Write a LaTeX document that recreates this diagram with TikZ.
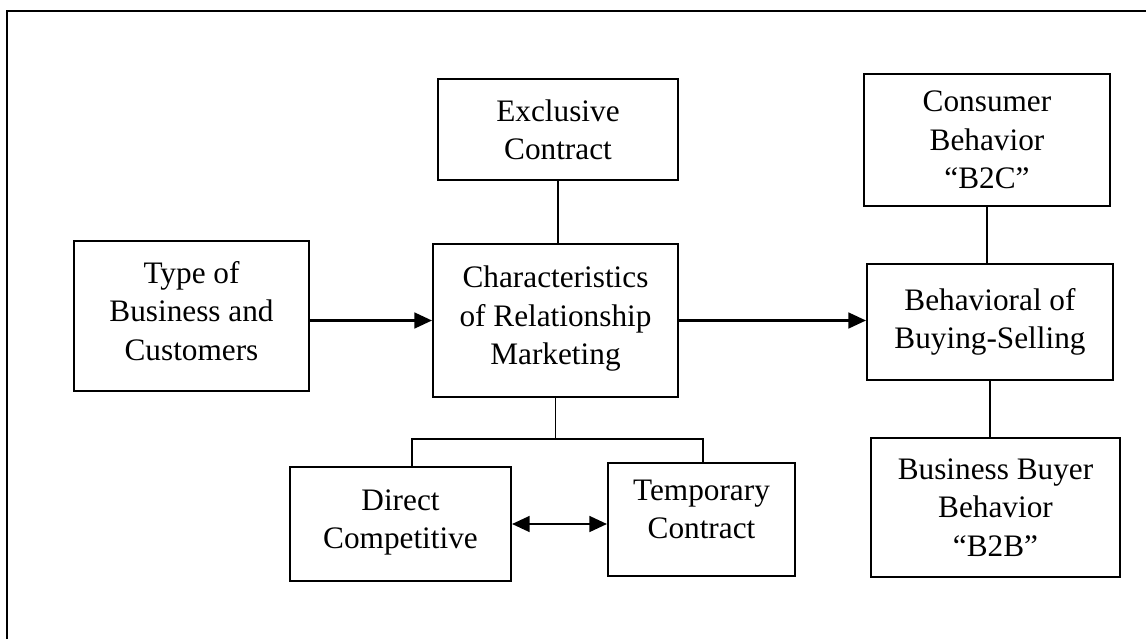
\documentclass[tikz,border=0pt]{standalone}
\usepackage{fontspec}
\setmainfont{Liberation Serif}
\usetikzlibrary{positioning,arrows.meta}

\begin{document}
\begin{tikzpicture}[x=0.02cm,y=-0.02cm,
                    block/.style={draw, line width=1.2pt, align=center, inner sep=0pt,
                                  font=\fontsize{17.8}{21.8}\selectfont},
                    link/.style={line width=1pt},
                    arr/.style={line width=1.2pt, -{Triangle[length=10pt,width=9pt]}},
                    dblarr/.style={line width=1.2pt, {Triangle[length=10pt,width=9pt]}-{Triangle[length=10pt,width=9pt]}}]
    \useasboundingbox (0,0) rectangle (1146,639);
    % frame (open at right and bottom)
    \draw[line width=1.4pt] (7,639) -- (7,11) -- (1146,11);

    % boxes
    \node[block, minimum width=4.7cm, minimum height=3cm] (type) at (191.5,316)
        {Type of\\Business and\\Customers\\[-16pt]};
    \node[block, minimum width=4.9cm, minimum height=3.06cm] (charac) at (555.5,320.5)
        {Characteristics\\of Relationship\\Marketing\\[-16pt]};
    \node[block, minimum width=4.8cm, minimum height=2.02cm] (excl) at (558,129.5)
        {Exclusive\\Contract};
    \node[block, minimum width=4.92cm, minimum height=2.64cm] (cons) at (987,140)
        {Consumer\\Behavior\\``B2C''};
    \node[block, minimum width=4.92cm, minimum height=2.32cm] (behav) at (990,322)
        {Behavioral of\\Buying-Selling};
    \node[block, minimum width=4.98cm, minimum height=2.78cm] (b2b) at (995.5,507.5)
        {Business Buyer\\Behavior\\``B2B''};
    \node[block, minimum width=4.42cm, minimum height=2.28cm] (direct) at (400.5,524)
        {Direct\\Competitive\\[-16pt]};
    \node[block, minimum width=3.74cm, minimum height=2.26cm] (temp) at (701.5,519.5)
        {Temporary\\Contract\\[-10pt]};

    % fork below the centre box
    \coordinate (forkl) at (412,439);
    \coordinate (forkr) at (703,439);

    % connectors
    \draw[arr] (type.east |- charac) -- (charac.west);
    \draw[arr] (charac.east) -- (charac.east -| behav.west);
    \draw[link] (excl.south) -- (excl.south |- charac.north);
    \draw[link] (cons.south) -- (cons.south |- behav.north);
    \draw[link] (behav.south) -- (behav.south |- b2b.north);
    \draw[link] (charac.south) -- (charac.south |- forkl);
    \draw[link] (forkl |- direct.north) -- (forkl) -- (forkr) -- (forkr |- temp.north);
    \draw[dblarr] (direct.east) -- (direct.east -| temp.west);
\end{tikzpicture}
\end{document}
